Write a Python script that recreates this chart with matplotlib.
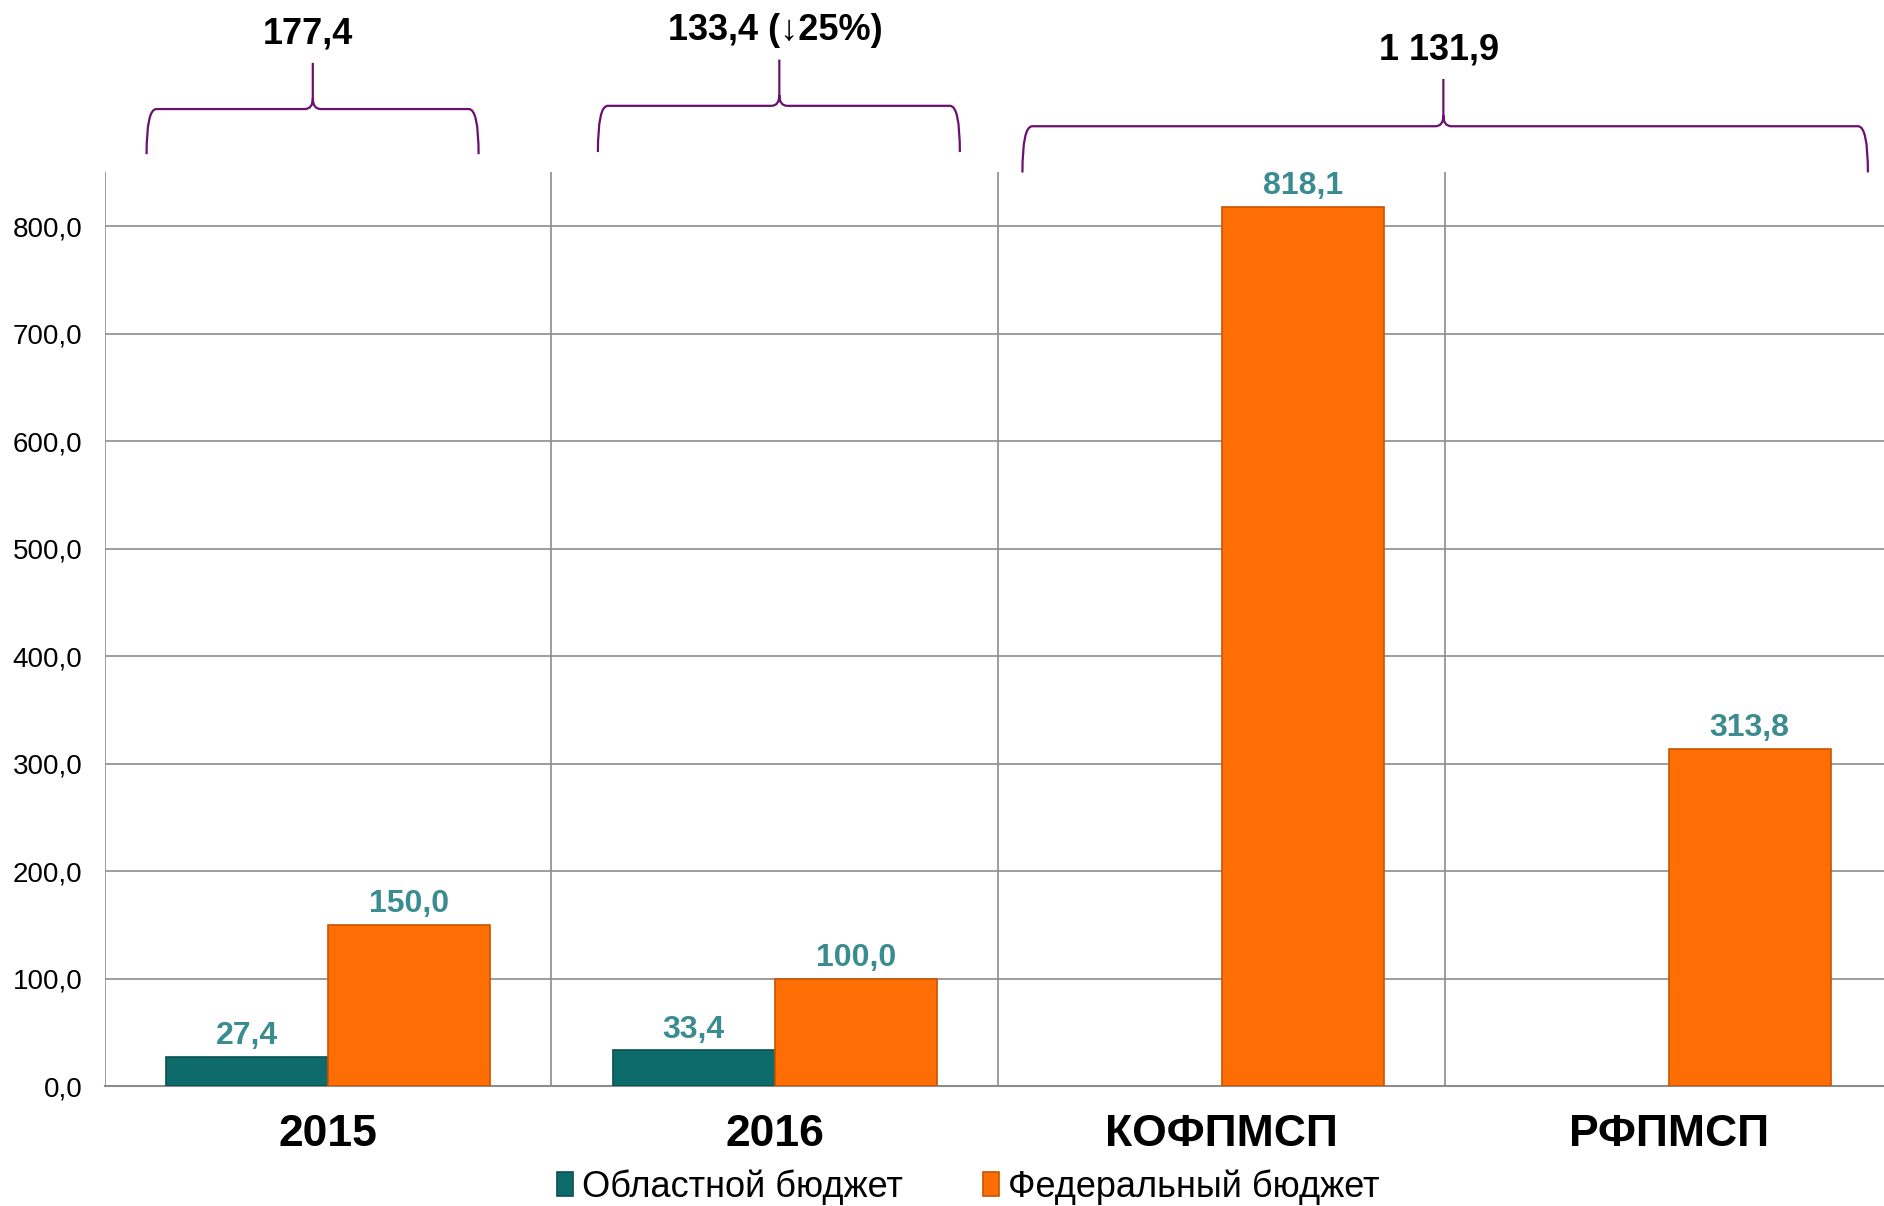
import numpy as np
import matplotlib
matplotlib.use("Agg")
import matplotlib.pyplot as plt
from matplotlib.path import Path
from matplotlib.patches import PathPatch

plt.rcParams['font.family'] = ['Liberation Sans', 'DejaVu Sans']

# data
categories = ["2015", "2016", "КОФПМСП", "РФПМСП"]
regional = [27.4, 33.4, np.nan, np.nan]
federal = [150.0, 100.0, 818.1, 313.8]
series_names = ["Областной бюджет", "Федеральный бюджет"]
totals = ["177,4", "133,4 (↓25%)", "1 131,9"]

teal = "#0e6b6b"
orange = "#ff6e04"
label_col = "#3b8c90"
purple = "#6b0f70"
grid_col = "#8c8c8c"

# brace geometry (x in category units, y in value units above the plot)
brace_left = [-0.406, 0.604, 1.554]
brace_right = [0.337, 1.414, 3.446]
brace_tip_x = [-0.034, 1.010, 2.496]
tip_y = [952, 955, 937]
h_y = [909, 912, 893]
end_y = [867, 869, 850]


def fmt(v):
    return f"{v:.1f}".replace(".", ",")


def brace(ax, x0, x1, xc, y_end, y_h, y_tip, dx, cdx, cdy):
    verts = [(x0, y_end), (x0, y_h), (x0 + dx, y_h),
             (xc - cdx, y_h),
             (xc, y_h), (xc, y_h + cdy),
             (xc, y_tip),
             (xc, y_h + cdy),
             (xc, y_h), (xc + cdx, y_h),
             (x1 - dx, y_h),
             (x1, y_h), (x1, y_end)]
    codes = [Path.MOVETO, Path.CURVE3, Path.CURVE3,
             Path.LINETO,
             Path.CURVE3, Path.CURVE3,
             Path.LINETO,
             Path.MOVETO,
             Path.CURVE3, Path.CURVE3,
             Path.LINETO,
             Path.CURVE3, Path.CURVE3]
    p = PathPatch(Path(verts, codes), fill=False, ec=purple, lw=1.6, clip_on=False)
    ax.add_patch(p)


fig = plt.figure(figsize=(18.84, 12.06), dpi=100)
ax = fig.add_axes([0.0555, 0.0995, 0.9445 * 1.002, 0.7575])

x = np.arange(len(categories))
w = 0.363
b1 = ax.bar(x - w / 2, regional, w, color=teal, edgecolor="#0a5050", lw=1.2,
            label=series_names[0], zorder=3)
b2 = ax.bar(x + w / 2, federal, w, color=orange, edgecolor="#c95400", lw=1.2,
            label=series_names[1], zorder=3)

for xi, v in zip(x, regional):
    if not np.isnan(v):
        ax.annotate(fmt(v), (xi - w / 2, v), xytext=(0, 4), textcoords="offset points",
                    ha="center", va="bottom", fontsize=23, fontweight="bold",
                    color=label_col)
for xi, v in zip(x, federal):
    ax.annotate(fmt(v), (xi + w / 2, v), xytext=(0, 4), textcoords="offset points",
                ha="center", va="bottom", fontsize=23, fontweight="bold",
                color=label_col)

ax.set_ylim(0, 850)
ax.set_xlim(-0.5, 3.49)
ax.set_yticks(np.arange(0, 801, 100))
ax.set_yticklabels([fmt(t) for t in np.arange(0, 801, 100)], fontsize=20)
ax.set_xticks(x)
ax.set_xticklabels(categories, fontsize=32, fontweight="bold")
ax.tick_params(axis="both", length=0)
ax.tick_params(axis="y", pad=16)
ax.tick_params(axis="x", pad=20)

ax.grid(axis="y", color=grid_col, lw=1.2, zorder=0)
for xv in np.arange(-0.5, len(categories), 1.0):
    ax.axvline(xv, color=grid_col, lw=1.2, zorder=1)
for s in ["top", "right", "left"]:
    ax.spines[s].set_visible(False)
ax.spines["bottom"].set_color(grid_col)
ax.spines["bottom"].set_linewidth(1.5)

# braces with totals
for i, txt in enumerate(totals):
    brace(ax, brace_left[i], brace_right[i], brace_tip_x[i],
          end_y[i], h_y[i], tip_y[i], 0.022, 0.018, 10)
    ax.text(brace_tip_x[i] - 0.01, tip_y[i] + 18, txt, ha="center", va="baseline",
            fontsize=26, fontweight="bold", color="black")

fig.legend(handles=[b1, b2], labels=series_names, loc="center", ncol=2,
           bbox_to_anchor=(0.514, 0.016), frameon=False, fontsize=26,
           handlelength=0.45, handleheight=0.65, handletextpad=0.25, columnspacing=2.2)

fig.savefig("out.png", dpi=100)
